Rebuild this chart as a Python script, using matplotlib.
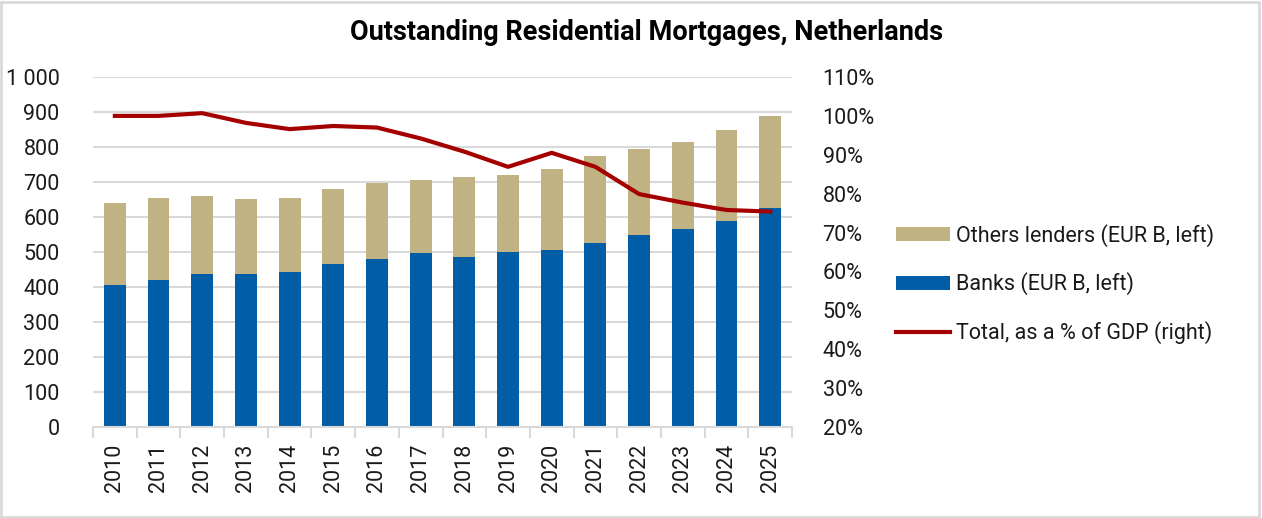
import matplotlib.pyplot as plt
import matplotlib.ticker as mticker
import numpy as np

plt.rcParams['font.family'] = ['Roboto', 'DejaVu Sans']

years = [str(y) for y in range(2010, 2026)]
banks = [407, 419, 436, 436, 442, 465, 479, 496, 487, 499, 505, 525, 548, 565, 588, 625]
total = [639, 653, 659, 650, 653, 679, 696, 705, 713, 719, 736, 773, 793, 813, 848, 888]
others = [t - b for t, b in zip(total, banks)]
pct_gdp = [100.0, 100.0, 100.7, 98.2, 96.6, 97.4, 97.0, 94.2, 90.8, 86.9, 90.5, 86.9, 79.9, 77.7, 75.8, 75.4]

BLUE = '#005DA6'
GOLD = '#C0B283'
RED = '#A50000'
GRID = '#D9D9D9'
TXT = '#1A1A1A'

fig = plt.figure(figsize=(12.62, 5.18), dpi=100)
ax = fig.add_axes([93 / 1262, 1 - 427 / 518, (792 - 93) / 1262, 350 / 518])
x = np.arange(len(years))

b1 = ax.bar(x, banks, width=0.5, color=BLUE, label='Banks (EUR B, left)', zorder=2)
b2 = ax.bar(x, others, width=0.5, bottom=banks, color=GOLD, label='Others lenders (EUR B, left)', zorder=2)

ax.set_ylim(0, 1000)
ax.set_xlim(-0.5, len(years) - 0.5)
ax.yaxis.set_major_locator(mticker.MultipleLocator(100))
ax.yaxis.set_major_formatter(mticker.FuncFormatter(lambda v, p: f'{int(v):,}'.replace(',', ' ')))
ax.grid(axis='y', color=GRID, linewidth=1.5, zorder=0)
ax.set_axisbelow(True)
for s in ['top', 'left', 'right']:
    ax.spines[s].set_visible(False)
ax.spines['bottom'].set_color(GRID)
ax.spines['bottom'].set_linewidth(1.5)
ax.set_xticks(x)
ax.set_xticklabels(years, rotation=90, fontsize=15.5, color=TXT)
ax.tick_params(axis='x', length=0, pad=12)
ax.set_xticks(np.arange(-0.5, len(years)), minor=True)
ax.tick_params(axis='x', which='minor', length=8, color=GRID, width=1.5)
ax.tick_params(axis='y', length=0, labelsize=15.5, pad=24, labelcolor=TXT)

ax2 = ax.twinx()
line, = ax2.plot(x, pct_gdp, color=RED, linewidth=3, label='Total, as a % of GDP (right)', zorder=3)
ax2.set_ylim(20, 110)
ax2.yaxis.set_major_locator(mticker.MultipleLocator(10))
ax2.yaxis.set_major_formatter(mticker.FuncFormatter(lambda v, p: f'{int(v)}%'))
for s in ['top', 'left', 'right', 'bottom']:
    ax2.spines[s].set_visible(False)
ax2.tick_params(axis='y', length=0, labelsize=15.5, pad=22, labelcolor=TXT)

fig.text(0.512, 1 - 33 / 518, 'Outstanding Residential Mortgages, Netherlands',
         ha='center', va='center', fontsize=19.5, fontweight='bold', color='black')

leg = fig.legend([b2, b1, line], [b2.get_label(), b1.get_label(), line.get_label()],
                 loc='center left', bbox_to_anchor=(877 / 1262, 1 - 284 / 518),
                 frameon=False, handlelength=2.5, handleheight=0.65,
                 handletextpad=0.25, labelspacing=1.2, prop={'size': 15.5})
for t in leg.get_texts():
    t.set_color(TXT)

fig.patches.append(plt.Rectangle((0.001, 0.002), 0.997, 0.995, transform=fig.transFigure,
                                 fill=False, edgecolor='#D9D9D9', linewidth=2))

fig.savefig('out.png', dpi=100)
